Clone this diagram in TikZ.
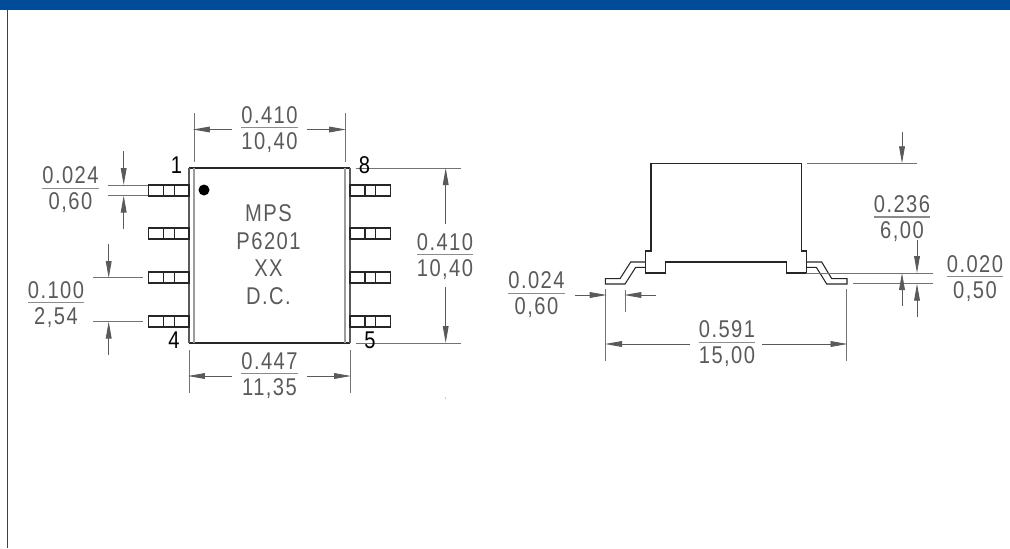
\documentclass[tikz,border=0pt]{standalone}
\usepackage{fontspec}
\setmainfont{Liberation Sans}
\newfontfamily\cadfont[FakeStretch=0.83,LetterSpace=6]{Liberation Sans}
\usetikzlibrary{arrows.meta}
\definecolor{headerblue}{HTML}{004C99}
\definecolor{frameblue}{HTML}{1F3F9F}
\definecolor{dimgrey}{HTML}{5A5A5A}
\tikzset{
	>={Triangle[length=0.34cm,width=0.115cm]},
	dimline/.style={draw=dimgrey, line width=0.5pt},
	dimrule/.style={draw=dimgrey!70, line width=0.8pt},
	extline/.style={draw=dimgrey!85, line width=0.5pt},
	part/.style={draw=black!85, line width=0.6pt},
	dimtext/.style={text=dimgrey, inner sep=0pt, anchor=base, font=\cadfont\fontsize{13.8}{15}\selectfont},
	pinlabel/.style={text=black, inner sep=0pt, font=\cadfont\fontsize{13.8}{15}\selectfont},
	marktext/.style={text=dimgrey, inner sep=0pt, font=\cadfont\fontsize{13.8}{15}\selectfont}
}
% name, x, y of the rule, upper value, lower value
\newcommand{\dimlabel}[5]{
	\node[dimtext] (#1top) at (#2,#3-5) {#4};
	\node[dimtext] (#1bot) at (#2,#3+21) {#5};
	\draw[dimrule] ([yshift=-0.094cm]#1top.base west) -- ([yshift=-0.094cm]#1top.base east);
}
\begin{document}
\begin{tikzpicture}[x=0.02cm,y=-0.02cm]
	\useasboundingbox (0,0) rectangle (1010,548);

	% Header and frame
	\fill[headerblue] (0,0) rectangle (1010,10);
	\draw[frameblue, line width=1pt] (7.5,10) -- (7.5,548);

	% Top view: body
	\draw[part] (350,168) -- (189,168);
	\draw[part] (189,343) -- (350,343);
	\draw[dimgrey, line width=0.7pt] (189,168) -- (189,343);
	\draw[dimgrey, line width=0.7pt] (350,168) -- (350,343);
	\draw[dimgrey!60, line width=0.9pt] (194,168) -- (194,343);
	\draw[dimgrey!60, line width=0.9pt] (345,168) -- (345,343);
	\fill[black] (204,190) circle (5.5);

	% Top view: pins
	\foreach \pinY in {185,228,272,316} {
		\draw[part] (189,\pinY) rectangle (148.5,\pinY+11);
		\draw[part] (163.7,\pinY) -- (163.7,\pinY+11);
		\draw[part] (174.3,\pinY) -- (174.3,\pinY+11);
		\draw[part] (350,\pinY) rectangle (390.7,\pinY+11);
		\draw[part] (365,\pinY) -- (365,\pinY+11);
		\draw[part] (375.7,\pinY) -- (375.7,\pinY+11);
	}

	% Marking
	\node[marktext] (markA) at (268.5,213) {MPS};
	\node[marktext] (markB) at (268.5,241) {P6201};
	\node[marktext] (markC) at (268.5,268) {XX};
	\node[marktext] (markD) at (268.5,296) {D.C.};

	% Top view: extension lines
	\draw[extline] (194,113) -- (194,162);
	\draw[extline] (345,113) -- (345,162);
	\draw[extline] (189,350) -- (189,393);
	\draw[extline] (350,350) -- (350,393);
	\draw[extline] (108,185) -- (148,185);
	\draw[extline] (108,195.5) -- (148,195.5);
	\draw[extline] (93,277.5) -- (143,277.5);
	\draw[extline] (93,321.5) -- (143,321.5);
	\draw[extline] (356,168) -- (461,168);
	\draw[extline] (356,343) -- (461,343);

	% Pin numbers
	\node[pinlabel] (pinA) at (176.5,165.5) {1};
	\node[pinlabel] (pinD) at (174,340.5) {4};
	\node[pinlabel] (pinH) at (364.5,165.5) {8};
	\node[pinlabel] (pinE) at (370,340.5) {5};

	% Top view: dimensions
	\draw[dimline,->] (232,129.5) -- (193,129.5);
	\draw[dimline,->] (307,129.5) -- (346,129.5);
	\dimlabel{topW}{269.5}{128}{0.410}{10,40}
	\draw[dimline,->] (232,376) -- (188,376);
	\draw[dimline,->] (307,376) -- (351,376);
	\dimlabel{botW}{269.5}{374}{0.447}{11,35}
	\draw[dimline,->] (123.7,151) -- (123.7,185);
	\draw[dimline,->] (123.7,229) -- (123.7,195.5);
	\dimlabel{pinW}{70.5}{188.7}{0.024}{0,60}
	\draw[dimline,->] (108.7,244) -- (108.7,278);
	\draw[dimline,->] (108.7,355) -- (108.7,321.5);
	\dimlabel{pitch}{56}{303}{0.100}{2,54}
	\draw[dimline,->] (445.7,224) -- (445.7,168);
	\draw[dimline,->] (445.7,287) -- (445.7,343);
	\dimlabel{bodyL}{445}{255}{0.410}{10,40}
	\fill[dimgrey!60] (445.5,398) circle (0.6);

	% Side view: body
	\draw[part] (651,251) -- (651,163.3) -- (801.7,163.3) -- (801.7,251) -- (806.3,251) -- (806.3,273)
		-- (786.7,273) -- (786.7,262) -- (665.7,262) -- (665.7,273) -- (645.7,273) -- (645.7,251) -- cycle;

	% Side view: leads
	\draw[part] (645.7,262) -- (630.7,262) -- (620,278.7) -- (605.3,278.7) -- (605.3,284) -- (625,284)
		-- (635.7,267.3) -- (645.7,267.3);
	\draw[part] (806.3,262) -- (821.7,262) -- (831.7,278.7) -- (847,278.7) -- (847,284) -- (826.7,284)
		-- (816.3,267.3) -- (806.3,267.3);

	% Side view: extension lines
	\draw[extline] (605.7,289) -- (605.7,360.7);
	\draw[extline] (625.3,290) -- (625.3,311.7);
	\draw[extline] (846.7,289) -- (846.7,360.7);
	\draw[extline] (807,163.3) -- (917,163.3);
	\draw[extline] (806.3,273) -- (932.7,273);
	\draw[extline] (853,283.7) -- (932.7,283.7);

	% Side view: dimensions
	\draw[dimline,->] (575,295) -- (606.7,295);
	\draw[dimline,->] (655.7,295) -- (624.3,295);
	\dimlabel{footW}{536.5}{293.7}{0.024}{0,60}
	\draw[dimline,->] (690,344) -- (605,344);
	\draw[dimline,->] (762,344) -- (847.5,344);
	\dimlabel{spanW}{727}{342.7}{0.591}{15,00}
	\draw[dimline,->] (902,132) -- (902,163.3);
	\draw[dimline,->] (917,240) -- (917,273);
	\dimlabel{height}{902}{217.3}{0.236}{6,00}
	\draw[dimline,->] (902,306) -- (902,273);
	\draw[dimline,->] (917,317) -- (917,283.7);
	\dimlabel{footH}{975}{277}{0.020}{0,50}
\end{tikzpicture}
\end{document}
